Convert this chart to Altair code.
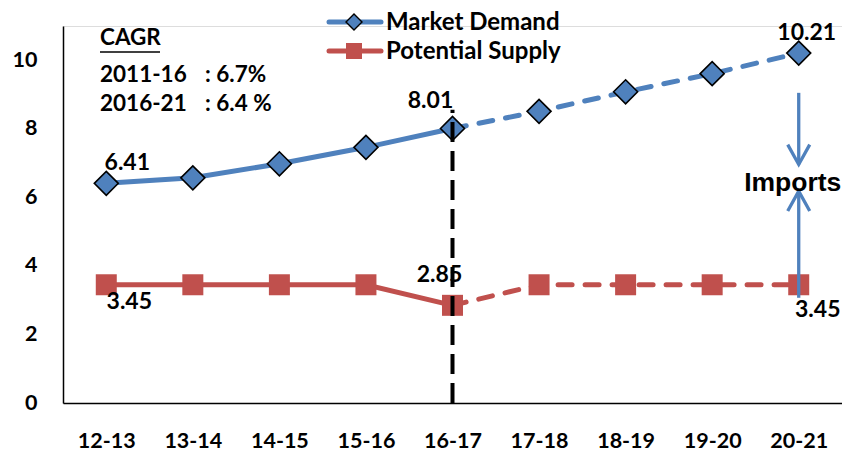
import altair as alt
import pandas as pd

# ---------------- data ----------------
categories = ["12-13", "13-14", "14-15", "15-16", "16-17", "17-18", "18-19", "19-20", "20-21"]
market_demand = [6.41, 6.57, 6.98, 7.46, 8.01, 8.51, 9.08, 9.61, 10.21]
potential_supply = [3.45, 3.45, 3.45, 3.45, 2.85, 3.45, 3.45, 3.45, 3.45]
series_names = ["Market Demand", "Potential Supply"]
series_colors = ["#4F81BD", "#C0504D"]
split_category = "16-17"          # actual -> projected (dashed) from here on
y_ticks = [0, 2, 4, 6, 8, 10]
y_max = 11

cagr_title = "CAGR"
cagr_periods = ["2011-16", "2016-21"]
cagr_values = [": 6.7%", ": 6.4 %"]

label_texts = ["6.41", "8.01", "10.21", "3.45", "2.85", "3.45"]
label_cats = ["12-13", "16-17", "20-21", "12-13", "16-17", "20-21"]
label_vals = [6.41, 8.01, 10.21, 3.45, 2.85, 3.45]
label_offsets = [(21, -20), (-22, -27), (8, -20), (23, 17), (-13, -30), (19, 25)]  # styling

divider_range = [0, 8.56]            # black dashed vertical at split
imports_down = [9.05, 6.96]          # arrow from demand down
imports_up = [3.07, 6.18]            # arrow from supply up
imports_label = "Imports"
imports_label_y = 6.43

BLUE, RED = series_colors
FONT = "Lato"

split_idx = categories.index(split_category)
rows = []
for name, vals in zip(series_names, [market_demand, potential_supply]):
    for i, (c, v) in enumerate(zip(categories, vals)):
        rows.append({"cat": c, "val": v, "series": name, "idx": i})
df = pd.DataFrame(rows)
df_solid = df[df.idx <= split_idx]
df_dash = df[df.idx >= split_idx]

x_scale = alt.Scale(type="point", domain=categories, padding=0.5)
y_scale = alt.Scale(domain=[0, y_max], nice=False)

x_axis = alt.Axis(title=None, ticks=False, tickSize=0, grid=False, labelAngle=0,
                  labelFont=FONT, labelFontWeight="bold", labelFontSize=21.5,
                  labelColor="black", labelPadding=38, labelBaseline="middle",
                  domainColor="black", domainWidth=1.5)
y_axis = alt.Axis(title=None, ticks=False, tickSize=0, grid=False, values=y_ticks,
                  labelFont=FONT, labelFontWeight="bold", labelFontSize=21.5,
                  labelColor="black", labelPadding=26,
                  domainColor="black", domainWidth=1.5)

X = alt.X("cat:N", scale=x_scale, axis=x_axis, sort=categories)
Y = alt.Y("val:Q", scale=y_scale, axis=y_axis)
color = alt.Color("series:N", scale=alt.Scale(domain=series_names, range=series_colors), legend=None)

solid = alt.Chart(df_solid).mark_line(strokeWidth=5).encode(x=X, y=Y, color=color)
dashed = alt.Chart(df_dash).mark_line(strokeWidth=5, strokeDash=[14, 13], strokeCap="round").encode(
    x=X, y=Y, color=color)

demand_pts = alt.Chart(df[df.series == series_names[0]]).mark_point(
    shape="diamond", filled=True, fill=BLUE, stroke="black", strokeWidth=1.6, size=576, opacity=1
).encode(x=X, y=Y)
supply_pts = alt.Chart(df[df.series == series_names[1]]).mark_square(
    size=441, color=RED, opacity=1
).encode(x=X, y=Y)

divider = alt.Chart(pd.DataFrame({"cat": [split_category], "val": [divider_range[0]], "val2": [divider_range[1]]})
                    ).mark_rule(color="black", strokeWidth=4, strokeDash=[20, 9]).encode(
    x=X, y=Y, y2="val2:Q")

arrow_df = pd.DataFrame({"cat": [categories[-1]] * 2,
                         "val": [imports_down[0], imports_up[0]],
                         "val2": [imports_down[1], imports_up[1]]})
arrow_lines = alt.Chart(arrow_df).mark_rule(color=BLUE, strokeWidth=3.3).encode(x=X, y=Y, y2="val2:Q")
head_down = alt.Chart(pd.DataFrame({"cat": [categories[-1]], "val": [imports_down[1]]})).mark_point(
    shape="M-1,-1.8L0,0L1,-1.8", filled=False, stroke=BLUE, strokeWidth=3.3, size=484, opacity=1
).encode(x=X, y=Y)
head_up = alt.Chart(pd.DataFrame({"cat": [categories[-1]], "val": [imports_up[1]]})).mark_point(
    shape="M-1,1.8L0,0L1,1.8", filled=False, stroke=BLUE, strokeWidth=3.3, size=484, opacity=1
).encode(x=X, y=Y)
imports_txt = alt.Chart(pd.DataFrame({"cat": [categories[-1]], "val": [imports_label_y], "t": [imports_label]})
                        ).mark_text(font="Liberation Sans", fontWeight="bold", fontSize=26.5, color="black",
                                    align="center", baseline="middle", dx=-6).encode(x=X, y=Y, text="t:N")

label_layers = []
for t, c, v, (dx, dy) in zip(label_texts, label_cats, label_vals, label_offsets):
    label_layers.append(
        alt.Chart(pd.DataFrame({"cat": [c], "val": [v], "t": [t]})).mark_text(
            font=FONT, fontWeight="bold", fontSize=23, color="black",
            align="center", baseline="middle", dx=dx, dy=dy).encode(x=X, y=Y, text="t:N"))

# ---------- annotations (legend + CAGR box), positioned in pixels ----------
one = pd.DataFrame({"a": [0]})
legend_layers = []
legend_rows_y = [-4, 25]
for name, col, yy in zip(series_names, series_colors, legend_rows_y):
    legend_layers.append(alt.Chart(one).mark_rule(color=col, strokeWidth=5, strokeCap="round").encode(
        x=alt.value(266), x2=alt.value(318), y=alt.value(yy)))
    if col == BLUE:
        legend_layers.append(alt.Chart(one).mark_point(
            shape="diamond", filled=True, fill=col, stroke="black", strokeWidth=1.4, size=256, opacity=1
        ).encode(x=alt.value(291), y=alt.value(yy)))
    else:
        legend_layers.append(alt.Chart(one).mark_square(size=256, color=col, opacity=1).encode(
            x=alt.value(291), y=alt.value(yy)))
    legend_layers.append(alt.Chart(one).mark_text(
        font=FONT, fontWeight="bold", fontSize=24, color="black", align="left", baseline="middle"
    ).encode(x=alt.value(323), y=alt.value(yy + 1), text=alt.value(name)))

CAGR_SIZE = 22.5
cagr_layers = [
    alt.Chart(one).mark_text(font=FONT, fontWeight="bold", fontSize=CAGR_SIZE, color="black",
                             align="left", baseline="middle").encode(
        x=alt.value(37), y=alt.value(12), text=alt.value(cagr_title)),
    alt.Chart(one).mark_rule(color="black", strokeWidth=1.6).encode(
        x=alt.value(37), x2=alt.value(97), y=alt.value(26)),
]
for i, (p, v) in enumerate(zip(cagr_periods, cagr_values)):
    yy = 49 + i * 28.5
    cagr_layers.append(alt.Chart(one).mark_text(font=FONT, fontWeight="bold", fontSize=CAGR_SIZE, color="black",
                                                align="left", baseline="middle").encode(
        x=alt.value(37), y=alt.value(yy), text=alt.value(p)))
    cagr_layers.append(alt.Chart(one).mark_text(font=FONT, fontWeight="bold", fontSize=CAGR_SIZE, color="black",
                                                align="left", baseline="middle").encode(
        x=alt.value(142), y=alt.value(yy), text=alt.value(v)))

chart = alt.layer(
    solid, dashed, demand_pts, supply_pts, divider, arrow_lines, head_down, head_up, imports_txt,
    *label_layers, *legend_layers, *cagr_layers
).properties(
    width=779, height=377,
    autosize=alt.AutoSizeParams(type="none"),
    padding={"left": 55, "top": 18, "right": 0, "bottom": 50},
).configure_view(stroke=None).configure(background="white")

chart.save("out.html", embed_options={"renderer": "svg", "actions": False})
